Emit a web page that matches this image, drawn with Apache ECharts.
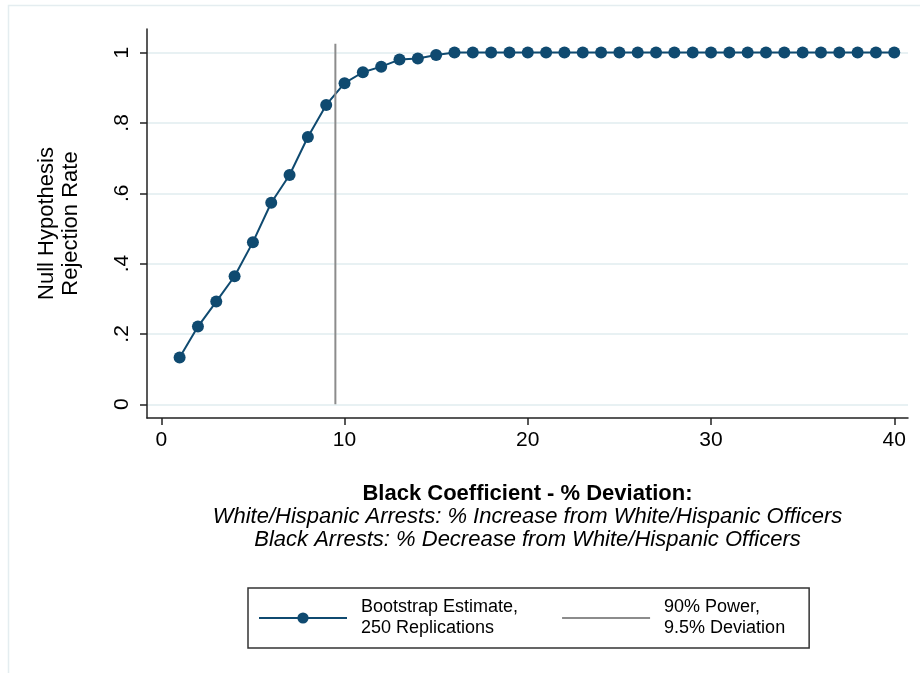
<!DOCTYPE html>
<html>
<head>
<meta charset="utf-8">
<script src="https://cdn.jsdelivr.net/npm/echarts@6/dist/echarts.min.js"></script>
<style>html,body{margin:0;padding:0;background:#fff}#chart{width:920px;height:673px}</style>
</head>
<body>
<div id="chart"></div>
<script>
// Percent deviation (x) and null-hypothesis rejection rate (y)
const deviation = [1,2,3,4,5,6,7,8,9,10,11,12,13,14,15,16,17,18,19,20,21,22,23,24,25,26,27,28,29,30,31,32,33,34,35,36,37,38,39,40];
const rejectionRate = [0.133,0.221,0.292,0.364,0.461,0.573,0.652,0.760,0.851,0.913,0.944,0.960,0.980,0.983,0.993,1,1,1,1,1,1,1,1,1,1,1,1,1,1,1,1,1,1,1,1,1,1,1,1,1];
const powerDeviation = 9.5;
const powerLineSpan = [0, 1.025];
const xTicks = [0,10,20,30,40];
const yTicks = [0,0.2,0.4,0.6,0.8,1];
const seriesNames = ['Bootstrap Estimate,\n250 Replications', '90% Power,\n9.5% Deviation'];
const xTitle = ['Black Coefficient - % Deviation:', 'White/Hispanic Arrests: % Increase from White/Hispanic Officers', 'Black Arrests: % Decrease from White/Hispanic Officers'];
const yTitle = 'Null Hypothesis\nRejection Rate';

const FONT = '"Liberation Sans", Arial, Helvetica, sans-serif';
const chart = echarts.init(document.getElementById('chart'));
const fmtY = v => { const s = String(+v.toFixed(2)); return s.startsWith('0.') ? s.slice(1) : s; };

chart.setOption({
  animation: false,
  backgroundColor: '#fff',
  textStyle: { fontFamily: FONT, color: '#000' },
  graphic: [{
    type: 'rect', silent: true,
    shape: { x: 8.5, y: 5.5, width: 1000, height: 1000 },
    style: { fill: 'none', stroke: '#e4edf0', lineWidth: 1.5 }
  }],
  grid: { left: 147, right: 12, top: 29, bottom: 255, containLabel: false },
  xAxis: {
    type: 'value', min: -0.78, max: 40.75,
    name: '{b|' + xTitle[0] + '}\n{i|' + xTitle[1] + '}\n{i|' + xTitle[2] + '}',
    nameLocation: 'middle', nameGap: 64,
    nameTextStyle: {
      fontFamily: FONT, color: '#000', align: 'center',
      rich: {
        b: { fontFamily: FONT, fontSize: 22, fontWeight: 'bold', lineHeight: 23, color: '#000', align: 'center' },
        i: { fontFamily: FONT, fontSize: 22, fontStyle: 'italic', lineHeight: 23, color: '#000', align: 'center' }
      }
    },
    axisLine: { show: true, onZero: false, lineStyle: { color: '#222', width: 1.5 } },
    axisTick: { show: true, length: 7, customValues: xTicks, lineStyle: { color: '#222', width: 1.5 } },
    axisLabel: { customValues: xTicks, fontSize: 21, margin: 12, color: '#000', fontFamily: FONT },
    splitLine: { show: false }
  },
  yAxis: {
    type: 'value', min: -0.039, max: 1.067,
    name: yTitle, nameLocation: 'middle', nameGap: 64, nameRotate: 90,
    nameTextStyle: { fontFamily: FONT, fontSize: 22, lineHeight: 24, color: '#000', align: 'center' },
    axisLine: { show: true, onZero: false, lineStyle: { color: '#222', width: 1.5 } },
    axisTick: { show: true, length: 7, customValues: yTicks, lineStyle: { color: '#222', width: 1.5 } },
    axisLabel: { customValues: yTicks, rotate: 90, fontSize: 21, margin: 14, color: '#000', fontFamily: FONT, formatter: fmtY },
    splitLine: { show: true, lineStyle: { color: '#e8f1f3', width: 2 } }
  },
  legend: {
    left: 248, top: 588, orient: 'horizontal',
    padding: [9, 24, 9, 10],
    borderColor: '#333', borderWidth: 1.5,
    itemWidth: 88, itemHeight: 14, itemGap: 43,
    textStyle: { fontFamily: FONT, fontSize: 18, lineHeight: 21, color: '#000', padding: [0, 0, 0, 9] },
    data: [
      { name: seriesNames[0] },
      { name: seriesNames[1], itemStyle: { color: 'rgba(0,0,0,0)', opacity: 0, borderWidth: 0 } }
    ]
  },
  series: [{
    name: seriesNames[0], type: 'line',
    data: deviation.map((d, i) => [d, rejectionRate[i]]),
    symbol: 'circle', symbolSize: 12,
    itemStyle: { color: '#0f4a70' },
    lineStyle: { color: '#0f4a70', width: 2 },
    z: 2
  }, {
    name: seriesNames[1], type: 'line',
    data: powerLineSpan.map(v => [powerDeviation, v]),
    symbol: 'none', showSymbol: false,
    itemStyle: { color: '#8c8c8c' },
    lineStyle: { color: '#8c8c8c', width: 2 },
    z: 3
  }]
});
</script>
</body>
</html>
